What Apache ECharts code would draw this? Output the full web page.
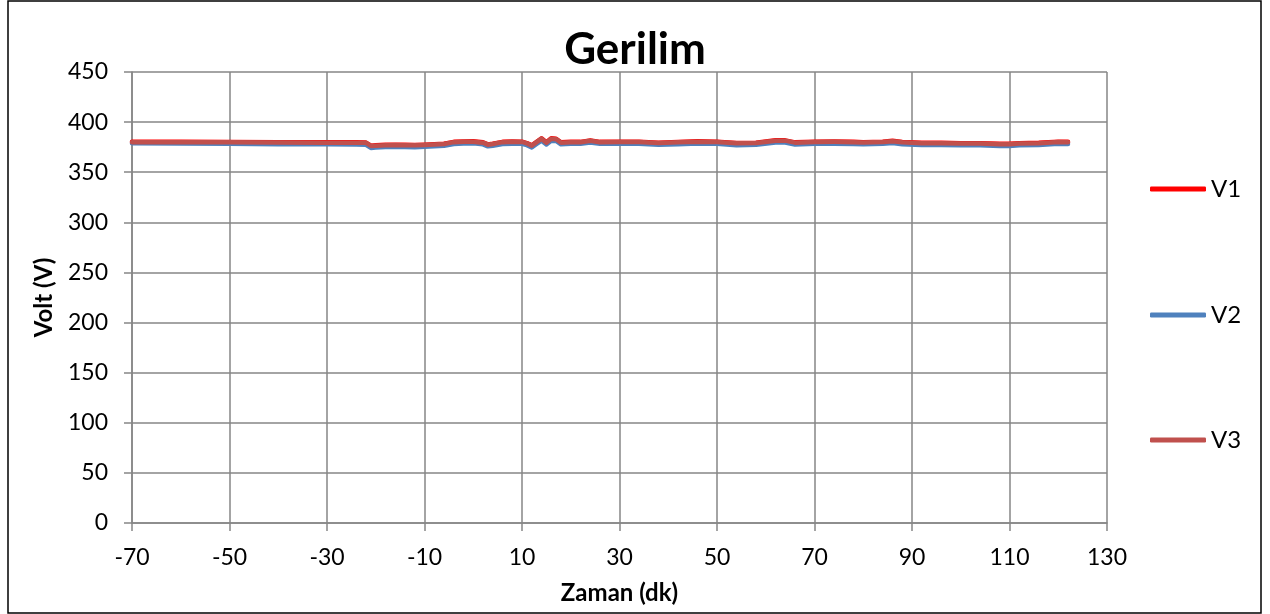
<!DOCTYPE html>
<html>
<head>
<meta charset="utf-8">
<script src="https://cdn.jsdelivr.net/npm/echarts@6/dist/echarts.min.js"></script>
<style>
html,body{margin:0;padding:0;background:#fff;}
#c{width:1270px;height:614px;}
</style>
</head>
<body>
<div id="c"></div>
<script>
const times = [-70,-60,-50,-40,-30,-24,-22,-21,-20,-18,-16,-14,-12,-10,-8,-6,-4,-2,0,2,3,4,6,8,10,11,12,13,14,15,16,17,18,20,22,24,26,30,34,38,42,46,50,54,58,62,64,66,70,74,78,80,84,86,88,92,96,100,104,108,110,112,116,120,122];
const v1 = [380.3,380.3,380.1,379.9,379.8,379.8,379.6,376.5,376.8,377.3,377.5,377.3,377.1,377.5,377.9,378.5,380.3,380.7,380.8,379.8,377.8,378.5,380.3,380.6,380.5,379.1,376.8,380.3,383.8,379.8,383.8,383.3,379.8,380.3,380.3,381.8,380.3,380.5,380.5,379.5,380.1,380.8,380.5,379.1,379.5,381.8,381.8,379.8,380.5,380.6,380.3,379.9,380.5,381.3,380.1,379.3,379.3,378.9,378.9,378.3,378.3,378.9,379.3,380.5,380.3];
const v2 = [378.8,378.6,378.3,378,377.8,377.6,377.3,374.2,374.6,375.2,375.4,375.2,375,375.4,375.8,376.5,378.2,378.6,378.8,377.8,375.8,376.5,378.2,378.5,378.4,377,374.8,378.2,381.5,377.8,381.5,381.2,377.8,378.3,378.3,379.6,378.3,378.5,378.4,377.4,378,378.7,378.4,377,377.4,379.6,379.7,377.7,378.4,378.5,378.2,377.8,378.4,379.2,378,377.2,377.2,376.8,376.8,376.2,376.2,376.8,377.2,378.4,378.2];
const v3 = [380,380,379.8,379.6,379.5,379.5,379.3,376.2,376.5,377,377.2,377,376.8,377.2,377.6,378.2,380,380.4,380.5,379.5,377.5,378.2,380,380.3,380.2,378.8,376.5,380,383.5,379.5,383.5,383,379.5,380,380,381.5,380,380.2,380.2,379.2,379.8,380.5,380.2,378.8,379.2,381.5,381.5,379.5,380.2,380.3,380,379.6,380.2,381,379.8,379,379,378.6,378.6,378,378,378.6,379,380.2,380];
const xTicks = [-70,-50,-30,-10,10,30,50,70,90,110,130];
const yTicks = [0,50,100,150,200,250,300,350,400,450];
const seriesNames = ['V1','V2','V3'];

const FONT = 'Lato';
const GRID = '#868686';
const colors = ['#FF0000','#4F81BD','#C0504D'];
const pair = arr => times.map((t,i)=>[t,arr[i]]);

const chart = echarts.init(document.getElementById('c'));
const legendTops = [172, 298, 423];
chart.setOption({
  animation:false,
  backgroundColor:'#fff',
  title:{text:'Gerilim',left:'center',top:23,textStyle:{fontFamily:FONT,fontWeight:'bold',fontSize:44,color:'#000'}},
  grid:{left:132,right:163,top:72,bottom:91,containLabel:false},
  legend: seriesNames.map((n,i)=>({
    data:[n],orient:'vertical',left:1145,top:legendTops[i],
    icon:'roundRect',itemWidth:56,itemHeight:5,
    textStyle:{fontFamily:FONT,fontSize:24,color:'#000'}
  })),
  xAxis:[
    {type:'value',min:xTicks[0],max:xTicks[xTicks.length-1],show:false},
    {type:'value',min:0,max:200,interval:20,position:'bottom',
     name:'Zaman (dk)',nameLocation:'middle',nameGap:58,
     nameTextStyle:{fontFamily:FONT,fontWeight:'bold',fontSize:24,color:'#000'},
     axisLine:{show:true,onZero:false,lineStyle:{color:GRID,width:1.5}},
     axisTick:{show:true,length:8,lineStyle:{color:GRID,width:1.5}},
     splitLine:{show:true,lineStyle:{color:GRID,width:1.5}},
     axisLabel:{margin:23,fontFamily:FONT,fontSize:23,color:'#000',formatter:v=>String(xTicks[Math.round(v/20)])}}
  ],
  yAxis:{type:'value',min:yTicks[0],max:yTicks[yTicks.length-1],interval:50,
     name:'Volt (V)',nameLocation:'middle',nameGap:76,
     nameTextStyle:{fontFamily:FONT,fontWeight:'bold',fontSize:24,color:'#000'},
     axisLine:{show:true,onZero:false,lineStyle:{color:GRID,width:1.5}},
     axisTick:{show:true,length:8,lineStyle:{color:GRID,width:1.5}},
     splitLine:{show:true,lineStyle:{color:GRID,width:1.5}},
     axisLabel:{margin:24,fontFamily:FONT,fontSize:23,color:'#000'}},
  series: [v1,v2,v3].map((arr,i)=>({
    name:seriesNames[i],type:'line',xAxisIndex:0,data:pair(arr),
    showSymbol:false,symbol:'none',smooth:false,
    itemStyle:{color:colors[i]},
    lineStyle:{color:colors[i],width:4.5,cap:'round',join:'round'}
  })),
  graphic:[{type:'rect',shape:{x:8,y:1,width:1253,height:612},style:{fill:'none',stroke:'#000',lineWidth:1.5},z:100}]
});
</script>
</body>
</html>
